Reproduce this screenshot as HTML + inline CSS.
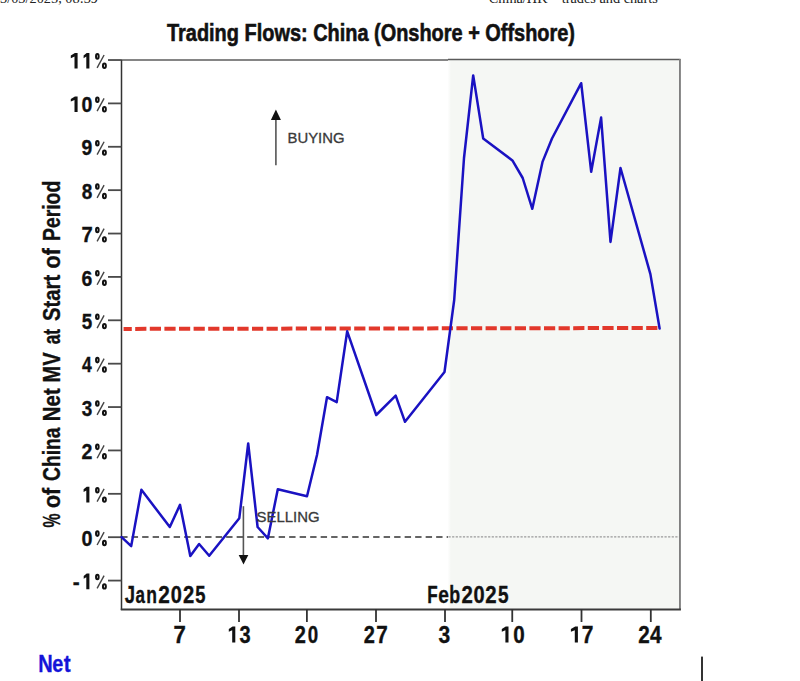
<!DOCTYPE html><html><head><meta charset="utf-8"><style>
html,body{margin:0;padding:0;background:#fff;width:800px;height:681px;overflow:hidden}
svg{display:block}
text{font-family:"Liberation Sans",sans-serif}
.b{font-weight:bold;stroke:#111;stroke-width:0.35px}
</style></head><body>
<svg width="800" height="681" viewBox="0 0 800 681">
<rect width="800" height="681" fill="#fff"/>

<text x="0" y="2.8" style="font-family:'Liberation Serif',serif" font-size="14.3" fill="#222" textLength="98" lengthAdjust="spacingAndGlyphs">3/03/2025, 08:39</text>
<text x="488.75" y="2.8" style="font-family:'Liberation Serif',serif" font-size="14.3" fill="#222" textLength="169" lengthAdjust="spacingAndGlyphs">China/HK – trades and charts</text>
<text class="b" x="167" y="40.8" font-size="24" fill="#111" style="stroke-width:0.6px" textLength="408" lengthAdjust="spacingAndGlyphs">Trading Flows: China (Onshore + Offshore)</text>
<defs><linearGradient id="sg" x1="0" x2="1" y1="0" y2="0"><stop offset="0" stop-color="#fff"/><stop offset="1" stop-color="#f5f7f4"/></linearGradient></defs>
<rect x="447.5" y="60" width="3.5" height="549" fill="url(#sg)"/>
<rect x="451" y="60" width="229" height="549" fill="#f5f7f4"/>
<line x1="121.15" y1="537" x2="448" y2="537" stroke="#333" stroke-width="1.6" stroke-dasharray="6.4 4.1"/>
<line x1="448.5" y1="536.9" x2="679" y2="536.9" stroke="#999" stroke-width="1.4" stroke-dasharray="2.2 1.4"/>
<line x1="123.6" y1="328.9" x2="658.2" y2="328.0" stroke="#e2382b" stroke-width="4" stroke-dasharray="11.2 3.4" stroke-dashoffset="3"/>
<line x1="121" y1="60" x2="448" y2="60" stroke="#858585" stroke-width="2.1"/>
<line x1="448" y1="59.5" x2="680.5" y2="59.5" stroke="#5a5a5a" stroke-width="1.3"/>
<line x1="679.95" y1="59" x2="679.95" y2="609.5" stroke="#808080" stroke-width="1.9"/>
<line x1="121.5" y1="60" x2="121.5" y2="610" stroke="#333" stroke-width="1.5"/>
<line x1="120.8" y1="609.5" x2="680.9" y2="609.5" stroke="#3a3a3a" stroke-width="1.8"/>
<line x1="108" y1="580.58" x2="121.5" y2="580.58" stroke="#4a4a4a" stroke-width="1.8"/>
<g fill="none" stroke="#111" stroke-width="2.0"><ellipse cx="97.35" cy="576.98" rx="1.3" ry="2.3"/><ellipse cx="104.4" cy="586.38" rx="1.45" ry="2.2"/></g><line x1="104.1" y1="575.58" x2="97.1" y2="588.38" stroke="#444" stroke-width="1.4"/>
<text class="b" x="72.77" y="589.18" font-size="22.6" fill="#111" textLength="6.92" lengthAdjust="spacingAndGlyphs">-</text>
<polygon fill="#111" points="89.40,573.58 86.70,573.58 83.70,576.08 83.70,578.78 86.30,577.18 86.30,589.18 89.40,589.18"/>
<line x1="108" y1="537.20" x2="121.5" y2="537.20" stroke="#4a4a4a" stroke-width="1.8"/>
<g fill="none" stroke="#111" stroke-width="2.0"><ellipse cx="97.35" cy="533.60" rx="1.3" ry="2.3"/><ellipse cx="104.4" cy="543.00" rx="1.45" ry="2.2"/></g><line x1="104.1" y1="532.20" x2="97.1" y2="545.00" stroke="#444" stroke-width="1.4"/>
<text class="b" x="81.51" y="545.80" font-size="22.6" fill="#111" textLength="11.01" lengthAdjust="spacingAndGlyphs">0</text>
<line x1="108" y1="493.82" x2="121.5" y2="493.82" stroke="#4a4a4a" stroke-width="1.8"/>
<g fill="none" stroke="#111" stroke-width="2.0"><ellipse cx="97.35" cy="490.22" rx="1.3" ry="2.3"/><ellipse cx="104.4" cy="499.62" rx="1.45" ry="2.2"/></g><line x1="104.1" y1="488.82" x2="97.1" y2="501.62" stroke="#444" stroke-width="1.4"/>
<polygon fill="#111" points="89.40,486.82 86.70,486.82 83.60,489.32 83.60,492.02 86.30,490.42 86.30,502.42 89.40,502.42"/>
<line x1="108" y1="450.44" x2="121.5" y2="450.44" stroke="#4a4a4a" stroke-width="1.8"/>
<g fill="none" stroke="#111" stroke-width="2.0"><ellipse cx="97.35" cy="446.84" rx="1.3" ry="2.3"/><ellipse cx="104.4" cy="456.24" rx="1.45" ry="2.2"/></g><line x1="104.1" y1="445.44" x2="97.1" y2="458.24" stroke="#444" stroke-width="1.4"/>
<text class="b" x="81.61" y="459.04" font-size="22.6" fill="#111" textLength="10.89" lengthAdjust="spacingAndGlyphs">2</text>
<line x1="108" y1="407.06" x2="121.5" y2="407.06" stroke="#4a4a4a" stroke-width="1.8"/>
<g fill="none" stroke="#111" stroke-width="2.0"><ellipse cx="97.35" cy="403.46" rx="1.3" ry="2.3"/><ellipse cx="104.4" cy="412.86" rx="1.45" ry="2.2"/></g><line x1="104.1" y1="402.06" x2="97.1" y2="414.86" stroke="#444" stroke-width="1.4"/>
<text class="b" x="81.83" y="415.66" font-size="22.6" fill="#111" textLength="10.56" lengthAdjust="spacingAndGlyphs">3</text>
<line x1="108" y1="363.68" x2="121.5" y2="363.68" stroke="#4a4a4a" stroke-width="1.8"/>
<g fill="none" stroke="#111" stroke-width="2.0"><ellipse cx="97.35" cy="360.08" rx="1.3" ry="2.3"/><ellipse cx="104.4" cy="369.48" rx="1.45" ry="2.2"/></g><line x1="104.1" y1="358.68" x2="97.1" y2="371.48" stroke="#444" stroke-width="1.4"/>
<text class="b" x="82.04" y="372.28" font-size="22.6" fill="#111" textLength="9.77" lengthAdjust="spacingAndGlyphs">4</text>
<line x1="108" y1="320.30" x2="121.5" y2="320.30" stroke="#4a4a4a" stroke-width="1.8"/>
<g fill="none" stroke="#111" stroke-width="2.0"><ellipse cx="97.35" cy="316.70" rx="1.3" ry="2.3"/><ellipse cx="104.4" cy="326.10" rx="1.45" ry="2.2"/></g><line x1="104.1" y1="315.30" x2="97.1" y2="328.10" stroke="#444" stroke-width="1.4"/>
<text class="b" x="81.74" y="328.90" font-size="22.6" fill="#111" textLength="10.46" lengthAdjust="spacingAndGlyphs">5</text>
<line x1="108" y1="276.92" x2="121.5" y2="276.92" stroke="#4a4a4a" stroke-width="1.8"/>
<g fill="none" stroke="#111" stroke-width="2.0"><ellipse cx="97.35" cy="273.32" rx="1.3" ry="2.3"/><ellipse cx="104.4" cy="282.72" rx="1.45" ry="2.2"/></g><line x1="104.1" y1="271.92" x2="97.1" y2="284.72" stroke="#444" stroke-width="1.4"/>
<text class="b" x="81.62" y="285.52" font-size="22.6" fill="#111" textLength="10.78" lengthAdjust="spacingAndGlyphs">6</text>
<line x1="108" y1="233.54" x2="121.5" y2="233.54" stroke="#4a4a4a" stroke-width="1.8"/>
<g fill="none" stroke="#111" stroke-width="2.0"><ellipse cx="97.35" cy="229.94" rx="1.3" ry="2.3"/><ellipse cx="104.4" cy="239.34" rx="1.45" ry="2.2"/></g><line x1="104.1" y1="228.54" x2="97.1" y2="241.34" stroke="#444" stroke-width="1.4"/>
<text class="b" x="81.39" y="242.14" font-size="22.6" fill="#111" textLength="11.24" lengthAdjust="spacingAndGlyphs">7</text>
<line x1="108" y1="190.16" x2="121.5" y2="190.16" stroke="#4a4a4a" stroke-width="1.8"/>
<g fill="none" stroke="#111" stroke-width="2.0"><ellipse cx="97.35" cy="186.56" rx="1.3" ry="2.3"/><ellipse cx="104.4" cy="195.96" rx="1.45" ry="2.2"/></g><line x1="104.1" y1="185.16" x2="97.1" y2="197.96" stroke="#444" stroke-width="1.4"/>
<text class="b" x="81.73" y="198.76" font-size="22.6" fill="#111" textLength="10.56" lengthAdjust="spacingAndGlyphs">8</text>
<line x1="108" y1="146.78" x2="121.5" y2="146.78" stroke="#4a4a4a" stroke-width="1.8"/>
<g fill="none" stroke="#111" stroke-width="2.0"><ellipse cx="97.35" cy="143.18" rx="1.3" ry="2.3"/><ellipse cx="104.4" cy="152.58" rx="1.45" ry="2.2"/></g><line x1="104.1" y1="141.78" x2="97.1" y2="154.58" stroke="#444" stroke-width="1.4"/>
<text class="b" x="81.62" y="155.38" font-size="22.6" fill="#111" textLength="10.78" lengthAdjust="spacingAndGlyphs">9</text>
<line x1="108" y1="103.40" x2="121.5" y2="103.40" stroke="#4a4a4a" stroke-width="1.8"/>
<g fill="none" stroke="#111" stroke-width="2.0"><ellipse cx="97.35" cy="99.80" rx="1.3" ry="2.3"/><ellipse cx="104.4" cy="109.20" rx="1.45" ry="2.2"/></g><line x1="104.1" y1="98.40" x2="97.1" y2="111.20" stroke="#444" stroke-width="1.4"/>
<polygon fill="#111" points="77.60,96.40 74.90,96.40 70.80,98.90 70.80,101.60 74.50,100.00 74.50,112.00 77.60,112.00"/>
<text class="b" x="81.52" y="112.00" font-size="22.6" fill="#111" textLength="10.89" lengthAdjust="spacingAndGlyphs">0</text>
<line x1="108" y1="60.02" x2="121.5" y2="60.02" stroke="#4a4a4a" stroke-width="1.8"/>
<g fill="none" stroke="#111" stroke-width="2.0"><ellipse cx="97.35" cy="56.42" rx="1.3" ry="2.3"/><ellipse cx="104.4" cy="65.82" rx="1.45" ry="2.2"/></g><line x1="104.1" y1="55.02" x2="97.1" y2="67.82" stroke="#444" stroke-width="1.4"/>
<polygon fill="#111" points="77.60,53.02 74.90,53.02 70.80,55.52 70.80,58.22 74.50,56.62 74.50,68.62 77.60,68.62"/>
<polygon fill="#111" points="89.40,53.02 86.70,53.02 83.60,55.52 83.60,58.22 86.30,56.62 86.30,68.62 89.40,68.62"/>
<line x1="180" y1="609" x2="180" y2="622" stroke="#333" stroke-width="1.8"/>
<line x1="239" y1="609" x2="239" y2="622" stroke="#333" stroke-width="1.8"/>
<line x1="306.9" y1="609" x2="306.9" y2="622" stroke="#333" stroke-width="1.8"/>
<line x1="376" y1="609" x2="376" y2="622" stroke="#333" stroke-width="1.8"/>
<line x1="445" y1="609" x2="445" y2="622" stroke="#333" stroke-width="1.8"/>
<line x1="512.25" y1="609" x2="512.25" y2="622" stroke="#333" stroke-width="1.8"/>
<line x1="581.5" y1="609" x2="581.5" y2="622" stroke="#333" stroke-width="1.8"/>
<line x1="650.8" y1="609" x2="650.8" y2="622" stroke="#333" stroke-width="1.8"/>
<text class="b" x="173.40" y="642.60" font-size="23" fill="#111" textLength="12.32" lengthAdjust="spacingAndGlyphs">7</text>
<polygon fill="#111" points="235.30,626.60 232.60,626.60 228.80,629.10 228.80,631.80 232.20,630.20 232.20,642.60 235.30,642.60"/>
<text class="b" x="239.50" y="642.60" font-size="23" fill="#111" textLength="11.12" lengthAdjust="spacingAndGlyphs">3</text>
<text class="b" x="294.80" y="642.60" font-size="23" fill="#111" textLength="11.12" lengthAdjust="spacingAndGlyphs">2</text>
<text class="b" x="307.65" y="642.60" font-size="23" fill="#111" textLength="10.42" lengthAdjust="spacingAndGlyphs">0</text>
<text class="b" x="363.70" y="642.60" font-size="23" fill="#111" textLength="11.12" lengthAdjust="spacingAndGlyphs">2</text>
<text class="b" x="376.17" y="642.60" font-size="23" fill="#111" textLength="11.48" lengthAdjust="spacingAndGlyphs">7</text>
<text class="b" x="438.47" y="642.60" font-size="23" fill="#111" textLength="11.69" lengthAdjust="spacingAndGlyphs">3</text>
<polygon fill="#111" points="508.50,626.60 505.80,626.60 501.80,629.10 501.80,631.80 505.40,630.20 505.40,642.60 508.50,642.60"/>
<text class="b" x="513.27" y="642.60" font-size="23" fill="#111" textLength="11.47" lengthAdjust="spacingAndGlyphs">0</text>
<polygon fill="#111" points="577.90,626.60 575.20,626.60 570.90,629.10 570.90,631.80 574.80,630.20 574.80,642.60 577.90,642.60"/>
<text class="b" x="581.81" y="642.60" font-size="23" fill="#111" textLength="11.66" lengthAdjust="spacingAndGlyphs">7</text>
<text class="b" x="638.28" y="642.60" font-size="23" fill="#111" textLength="11.47" lengthAdjust="spacingAndGlyphs">2</text>
<text class="b" x="650.09" y="642.60" font-size="23" fill="#111" textLength="11.54" lengthAdjust="spacingAndGlyphs">4</text>
<text class="b" x="124.72" y="603.10" font-size="23.5" fill="#111" textLength="10.30" lengthAdjust="spacingAndGlyphs">J</text>
<text class="b" x="135.49" y="603.10" font-size="23.5" fill="#111" textLength="9.46" lengthAdjust="spacingAndGlyphs">a</text>
<text class="b" x="146.16" y="603.10" font-size="23.5" fill="#111" textLength="10.71" lengthAdjust="spacingAndGlyphs">n</text>
<text class="b" x="158.17" y="603.10" font-size="23.5" fill="#111" textLength="11.59" lengthAdjust="spacingAndGlyphs">2</text>
<text class="b" x="170.70" y="603.10" font-size="23.5" fill="#111" textLength="11.12" lengthAdjust="spacingAndGlyphs">0</text>
<text class="b" x="182.89" y="603.10" font-size="23.5" fill="#111" textLength="11.24" lengthAdjust="spacingAndGlyphs">2</text>
<text class="b" x="195.35" y="603.10" font-size="23.5" fill="#111" textLength="10.23" lengthAdjust="spacingAndGlyphs">5</text>
<text class="b" x="427.29" y="603.10" font-size="23.5" fill="#111" textLength="10.42" lengthAdjust="spacingAndGlyphs">F</text>
<text class="b" x="438.33" y="603.10" font-size="23.5" fill="#111" textLength="10.66" lengthAdjust="spacingAndGlyphs">e</text>
<text class="b" x="449.14" y="603.10" font-size="23.5" fill="#111" textLength="10.89" lengthAdjust="spacingAndGlyphs">b</text>
<text class="b" x="461.39" y="603.10" font-size="23.5" fill="#111" textLength="11.36" lengthAdjust="spacingAndGlyphs">2</text>
<text class="b" x="473.40" y="603.10" font-size="23.5" fill="#111" textLength="11.12" lengthAdjust="spacingAndGlyphs">0</text>
<text class="b" x="485.29" y="603.10" font-size="23.5" fill="#111" textLength="11.36" lengthAdjust="spacingAndGlyphs">2</text>
<text class="b" x="498.03" y="603.10" font-size="23.5" fill="#111" textLength="10.57" lengthAdjust="spacingAndGlyphs">5</text>
<text class="b" x="38.30" y="672.00" font-size="24" fill="#1414d8" style="stroke:#1414d8" textLength="14.44" lengthAdjust="spacingAndGlyphs">N</text>
<text class="b" x="52.31" y="672.00" font-size="24" fill="#1414d8" style="stroke:#1414d8" textLength="11.01" lengthAdjust="spacingAndGlyphs">e</text>
<text class="b" x="63.79" y="672.00" font-size="24" fill="#1414d8" style="stroke:#1414d8" textLength="6.88" lengthAdjust="spacingAndGlyphs">t</text>
<text class="b" transform="translate(60.2,241.06) rotate(-90)" x="0" y="0" font-size="23" fill="#111" textLength="60.36" lengthAdjust="spacingAndGlyphs">Period</text>
<text class="b" transform="translate(60.2,268.46) rotate(-90)" x="0" y="0" font-size="23" fill="#111" textLength="20.23" lengthAdjust="spacingAndGlyphs">of</text>
<text class="b" transform="translate(60.2,321.01) rotate(-90)" x="0" y="0" font-size="23" fill="#111" textLength="46.18" lengthAdjust="spacingAndGlyphs">Start</text>
<text class="b" transform="translate(60.2,344.21) rotate(-90)" x="0" y="0" font-size="23" fill="#111" textLength="15.26" lengthAdjust="spacingAndGlyphs">at</text>
<text class="b" transform="translate(60.2,382.40) rotate(-90)" x="0" y="0" font-size="23" fill="#111" textLength="30.00" lengthAdjust="spacingAndGlyphs">MV</text>
<text class="b" transform="translate(60.2,421.13) rotate(-90)" x="0" y="0" font-size="23" fill="#111" textLength="32.86" lengthAdjust="spacingAndGlyphs">Net</text>
<text class="b" transform="translate(60.2,480.97) rotate(-90)" x="0" y="0" font-size="23" fill="#111" textLength="53.53" lengthAdjust="spacingAndGlyphs">China</text>
<text class="b" transform="translate(60.2,508.06) rotate(-90)" x="0" y="0" font-size="23" fill="#111" textLength="20.23" lengthAdjust="spacingAndGlyphs">of</text>
<text class="b" transform="translate(60.2,527.39) rotate(-90)" x="0" y="0" font-size="23" fill="#111" textLength="13.97" lengthAdjust="spacingAndGlyphs">%</text>
<line x1="275.9" y1="165.2" x2="275.9" y2="119" stroke="#555" stroke-width="1.6"/>
<polygon points="270.9,120 280.9,120 275.9,109.6" fill="#111"/>
<line x1="243.4" y1="506.2" x2="243.4" y2="556" stroke="#555" stroke-width="1.6"/>
<polygon points="238.7,555 248.3,555 243.5,564.4" fill="#111"/>
<polyline fill="none" stroke="#1a12c2" stroke-width="2.5" stroke-linejoin="round" stroke-linecap="round" points="121.6,537.1 131.2,546.1 141.4,489.8 169.8,527 180,504.8 190.3,555.9 199.1,544 209.2,555.8 239.3,518.2 248.2,443.5 257.6,527 267.9,538.3 277.8,489.2 307,496.2 317,455 327,397.2 336.7,402.1 347.2,331.3 376.2,415 395.7,395.6 405,421.8 444.5,372 454.2,300 464,158 473.2,75.4 483.2,138.5 512.4,160.4 522.7,178 532.3,208.8 542.5,161.9 552,138.5 581.2,83.2 591.2,171.8 601.1,117.6 610.5,241.9 620.5,168 650.4,274.1 659.6,328.5"/>
<text x="287.5" y="143.3" font-size="14" fill="#3a3a3a" style="stroke:#3a3a3a;stroke-width:0.3px" textLength="57" lengthAdjust="spacingAndGlyphs">BUYING</text>
<text x="256.5" y="522.1" font-size="14" fill="#3a3a3a" style="stroke:#3a3a3a;stroke-width:0.3px" textLength="63" lengthAdjust="spacingAndGlyphs">SELLING</text>
<rect x="701" y="656.6" width="2" height="25" fill="#333"/>
</svg></body></html>
